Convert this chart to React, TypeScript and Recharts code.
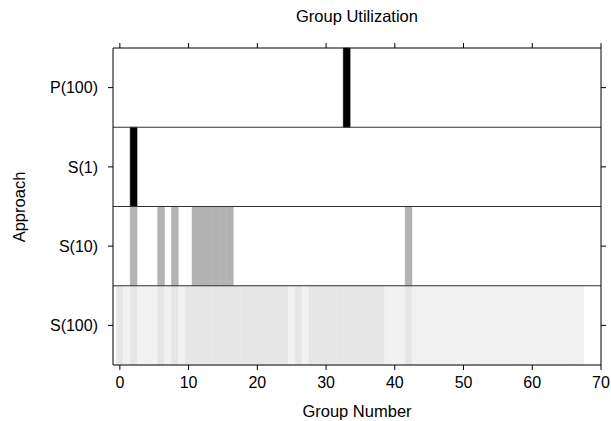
import React from "react";
import {
  ComposedChart,
  Line,
  XAxis,
  YAxis,
  ReferenceArea,
  ReferenceLine,
} from "recharts";

// approaches, bottom row first
const approaches = ["S(100)", "S(10)", "S(1)", "P(100)"];
const yTicks = [0.5, 1.5, 2.5, 3.5];
const xTicks = [0, 10, 20, 30, 40, 50, 60, 70];

// utilization per group (0 = unused, 1 = fully used)
const p100Used = [33];
const p100Level = 1;
const s1Used = [2];
const s1Level = 1;
const s10Used = [2, 6, 8, 11, 12, 13, 14, 15, 16, 42];
const s10Level = 0.3;
const s100Levels = [
  0.1, 0.05, 0.1, 0.05, 0.05, 0.05, 0.1, 0.05, 0.1, 0.05,
  0.1, 0.1, 0.1, 0.1, 0.1, 0.1, 0.1, 0.1, 0.1, 0.1, 0.1, 0.1, 0.1, 0.1, 0.1,
  0.05, 0.1, 0.05,
  0.1, 0.1, 0.1, 0.1, 0.1, 0.1, 0.1, 0.1, 0.1, 0.1, 0.1,
  0.05, 0.05, 0.05,
  0.1,
  0.05, 0.05, 0.05, 0.05, 0.05, 0.05, 0.05, 0.05, 0.05, 0.05, 0.05, 0.05, 0.05,
  0.05, 0.05, 0.05, 0.05, 0.05, 0.05, 0.05, 0.05, 0.05, 0.05, 0.05, 0.05,
];

type Cell = { group: number; row: number; level: number };

const cells: Cell[] = [
  ...s100Levels.map((level, group) => ({ group, row: 0, level })),
  ...s10Used.map((group) => ({ group, row: 1, level: s10Level })),
  ...s1Used.map((group) => ({ group, row: 2, level: s1Level })),
  ...p100Used.map((group) => ({ group, row: 3, level: p100Level })),
];

// one point per group, only used to anchor the axes
const groupRows = s100Levels.map((_, group) => ({ group, mid: 2 }));

const grey = (level: number) => {
  const v = Math.round(255 * (1 - level));
  return `rgb(${v},${v},${v})`;
};

const font = "'Liberation Sans', Arial, Helvetica, sans-serif";
const tickStyle = { fontSize: 16, fill: "#000", fontFamily: font };

export default function App() {
  return (
    <div style={{ position: "relative", width: 611, height: 421, background: "#fff", fontFamily: font }}>
      <style>{"body{margin:0}"}</style>
      <div style={{ position: "absolute", left: 0, width: 714, top: 7, textAlign: "center", fontSize: 16.5 }}>
        Group Utilization
      </div>
      <div style={{ position: "absolute", left: 0, width: 714, top: 402, textAlign: "center", fontSize: 16.5 }}>
        Group Number
      </div>
      <div
        style={{
          position: "absolute",
          left: 19,
          top: 207,
          fontSize: 16.5,
          transform: "translate(-50%, -50%) rotate(-90deg)",
          whiteSpace: "nowrap",
        }}
      >
        Approach
      </div>
      <ComposedChart width={611} height={421} data={groupRows} margin={{ top: 18, right: 0, bottom: 0, left: 0 }}>
        <XAxis
          xAxisId="bottom"
          dataKey="group"
          type="number"
          domain={[-1, 70]}
          ticks={xTicks}
          orientation="bottom"
          height={56}
          tickSize={5}
          tickMargin={7}
          stroke="#000"
          tick={tickStyle}
          allowDataOverflow
        />
        <XAxis
          xAxisId="top"
          dataKey="group"
          type="number"
          domain={[-1, 70]}
          ticks={xTicks}
          orientation="top"
          height={30}
          tickSize={5}
          stroke="#000"
          tickFormatter={() => ""}
          allowDataOverflow
        />
        <YAxis
          yAxisId="left"
          type="number"
          domain={[0, 4]}
          ticks={yTicks}
          width={113}
          tickSize={5}
          tickMargin={10}
          stroke="#000"
          tick={tickStyle}
          tickFormatter={(v: number) => approaches[Math.floor(v)]}
          allowDataOverflow
        />
        <YAxis
          yAxisId="right"
          orientation="right"
          type="number"
          domain={[0, 4]}
          ticks={yTicks}
          width={10}
          tickSize={5}
          stroke="#000"
          tickFormatter={() => ""}
          allowDataOverflow
        />
        <Line
          xAxisId="bottom"
          yAxisId="left"
          dataKey="mid"
          stroke="none"
          dot={false}
          activeDot={false}
          legendType="none"
          isAnimationActive={false}
        />
        <Line
          xAxisId="top"
          yAxisId="right"
          dataKey="mid"
          stroke="none"
          dot={false}
          activeDot={false}
          legendType="none"
          isAnimationActive={false}
        />
        {cells.map((c) => (
          <ReferenceArea
            key={`${c.row}-${c.group}`}
            xAxisId="bottom"
            yAxisId="left"
            x1={c.group - 0.5}
            x2={c.group + 0.5}
            y1={c.row}
            y2={c.row + 1}
            fill={grey(c.level)}
            fillOpacity={1}
            stroke={grey(c.level)}
            strokeWidth={0.5}
            ifOverflow="visible"
          />
        ))}
        {[1, 2, 3].map((y) => (
          <ReferenceLine key={y} xAxisId="bottom" yAxisId="left" y={y} stroke="#333" strokeWidth={1.2} />
        ))}
      </ComposedChart>
    </div>
  );
}
